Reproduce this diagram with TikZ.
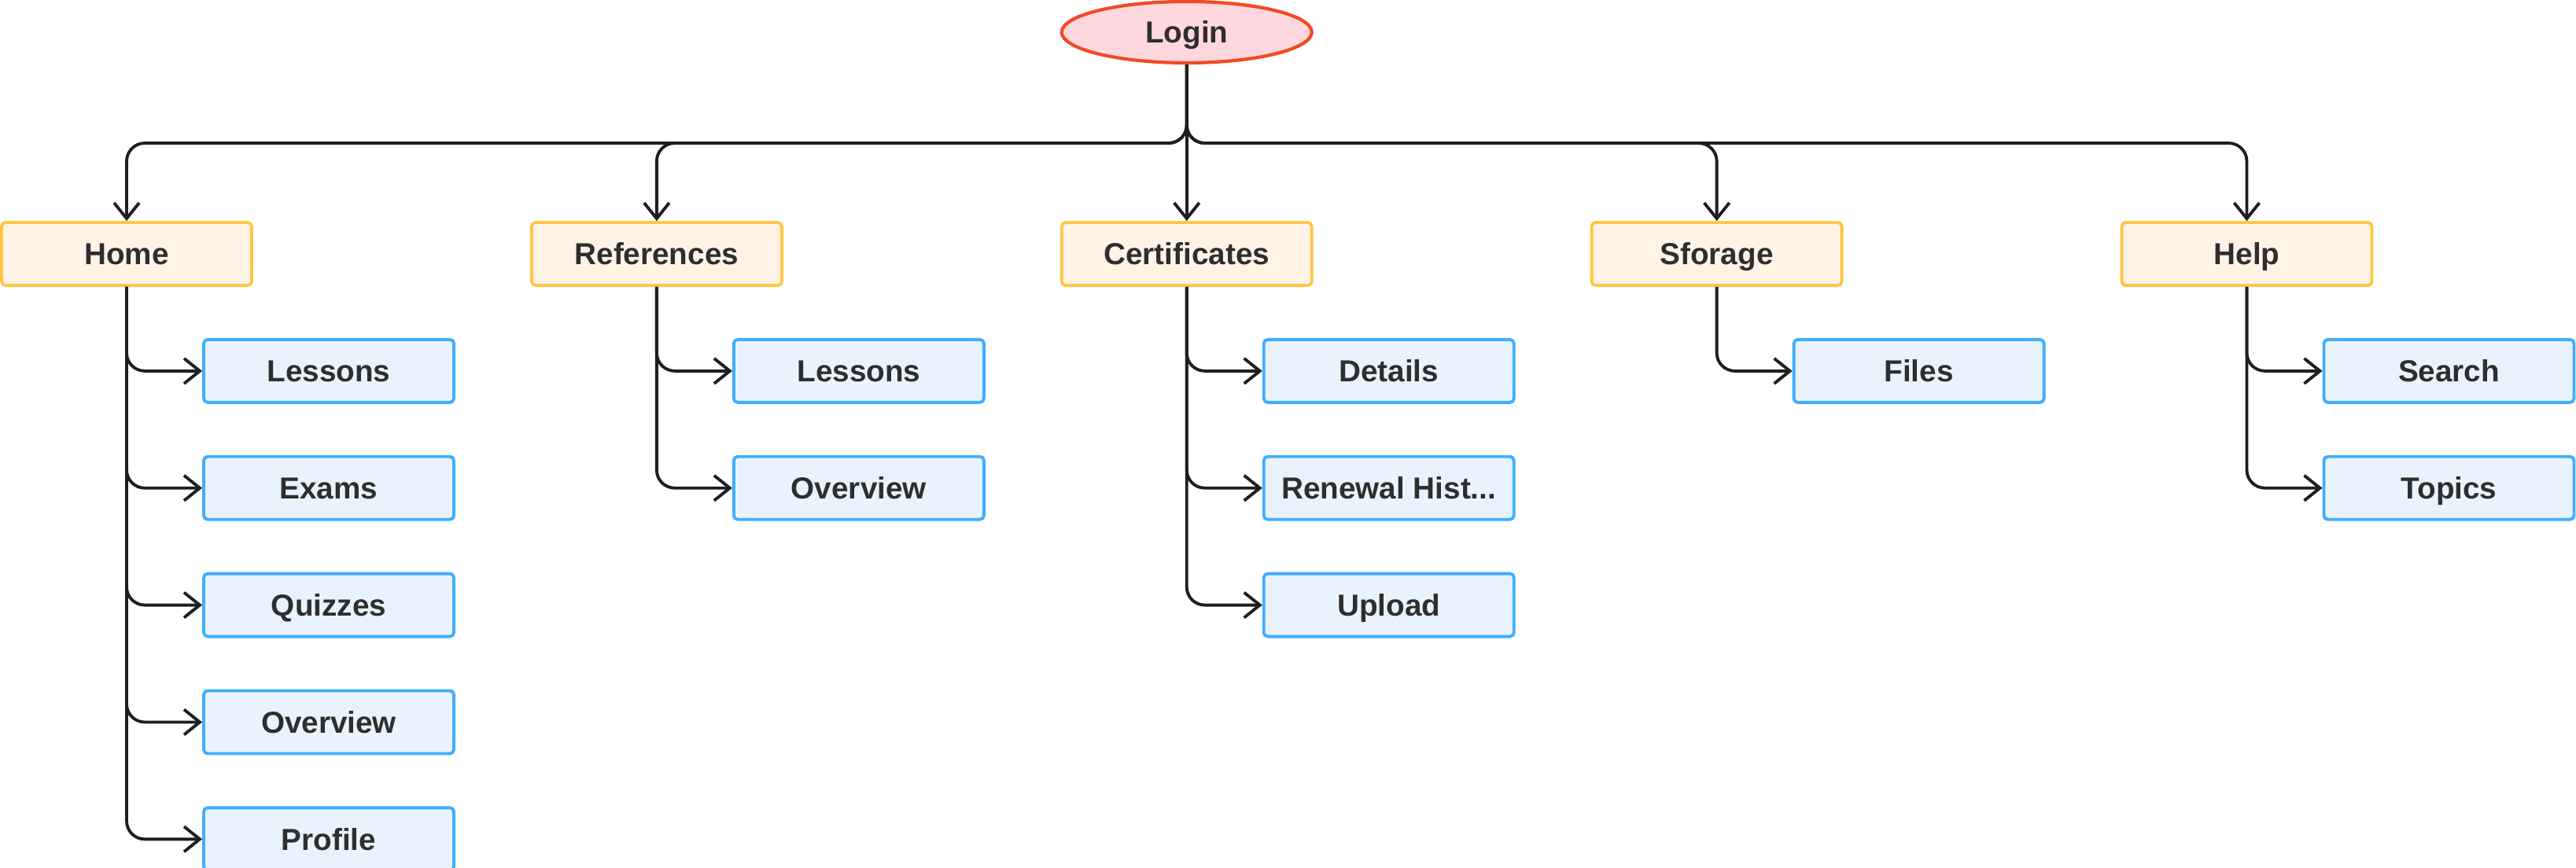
\documentclass[tikz,border=0pt]{standalone}
\usepackage{fontspec}
\setmainfont{Liberation Sans}
\usepackage{tikz}
\usetikzlibrary{shapes.geometric}
\usetikzlibrary{arrows.meta}
\usetikzlibrary{positioning}

\definecolor{loginfill}{HTML}{FFD8DF}
\definecolor{loginline}{HTML}{F24A24}
\definecolor{mainfill}{HTML}{FFF3E5}
\definecolor{mainline}{HTML}{FFC645}
\definecolor{subfill}{HTML}{E8F3FD}
\definecolor{subline}{HTML}{40AEFF}
\definecolor{ink}{HTML}{1E1E1E}
\definecolor{labelink}{HTML}{2E2E2E}

\begin{document}
\begin{tikzpicture}[
                node distance=3.52cm,
                every node/.style={
                        font=\bfseries\fontsize{11}{13}\selectfont,
                        text=labelink,
                        text height=7.9pt,
                        text depth=0pt,
                        align=center
                    },
                loginbox/.style={
                        draw=loginline,
                        fill=loginfill,
                        ellipse,
                        line width=1.2pt,
                        minimum width=3.18cm,
                        minimum height=0.78cm,
                        inner sep=0pt
                    },
                mainbox/.style={
                        draw=mainline,
                        fill=mainfill,
                        rounded corners=0.05cm,
                        line width=1.1pt,
                        minimum width=3.18cm,
                        minimum height=0.8cm,
                        inner sep=0pt
                    },
                subbox/.style={
                        draw=subline,
                        fill=subfill,
                        rounded corners=0.05cm,
                        line width=1.1pt,
                        minimum width=3.18cm,
                        minimum height=0.8cm,
                        inner sep=0pt
                    },
                link/.style={
                        draw=ink,
                        line width=1.1pt,
                        rounded corners=0.23cm,
                        -{Straight Barb[length=0.2cm,width=0.32cm]}
                    }
            ]

            \useasboundingbox (0,0) rectangle (32.75,-11.04);

            % Top row
            \node[mainbox] (home) at (1.61,-3.23) {Home};
            \node[mainbox, right=of home] (references) {References};
            \node[mainbox, right=of references] (certificates) {Certificates};
            \node[mainbox, right=of certificates] (sforage) {Sforage};
            \node[mainbox, right=of sforage] (help) {Help};

            % Login on top
            \node[loginbox, above=1.99cm of certificates] (login) {Login};
            \coordinate[below=1cm of login] (bus);

            % Pages under Home
            \node[subbox, below=0.65cm of home, xshift=2.57cm] (homeLessons) {Lessons};
            \node[subbox, below=0.65cm of homeLessons] (homeExams) {Exams};
            \node[subbox, below=0.65cm of homeExams] (homeQuizzes) {Quizzes};
            \node[subbox, below=0.65cm of homeQuizzes] (homeOverview) {Overview};
            \node[subbox, below=0.65cm of homeOverview] (homeProfile) {Profile};

            % Pages under References
            \node[subbox, below=0.65cm of references, xshift=2.57cm] (refLessons) {Lessons};
            \node[subbox, below=0.65cm of refLessons] (refOverview) {Overview};

            % Pages under Certificates
            \node[subbox, below=0.65cm of certificates, xshift=2.57cm] (certDetails) {Details};
            \node[subbox, below=0.65cm of certDetails] (certRenewal) {Renewal Hist...};
            \node[subbox, below=0.65cm of certRenewal] (certUpload) {Upload};

            % Pages under Sforage
            \node[subbox, below=0.65cm of sforage, xshift=2.57cm] (sforageFiles) {Files};

            % Pages under Help
            \node[subbox, below=0.65cm of help, xshift=2.57cm] (helpSearch) {Search};
            \node[subbox, below=0.65cm of helpSearch] (helpTopics) {Topics};

            % Login to the top row
            \draw[link] (login.south) -- (bus) -| (home.north);
            \draw[link] (login.south) -- (bus) -| (references.north);
            \draw[link] (login.south) -- (certificates.north);
            \draw[link] (login.south) -- (bus) -| (sforage.north);
            \draw[link] (login.south) -- (bus) -| (help.north);

            % Top row to the pages
            \draw[link] (home.south) |- (homeLessons.west);
            \draw[link] (home.south) |- (homeExams.west);
            \draw[link] (home.south) |- (homeQuizzes.west);
            \draw[link] (home.south) |- (homeOverview.west);
            \draw[link] (home.south) |- (homeProfile.west);

            \draw[link] (references.south) |- (refLessons.west);
            \draw[link] (references.south) |- (refOverview.west);

            \draw[link] (certificates.south) |- (certDetails.west);
            \draw[link] (certificates.south) |- (certRenewal.west);
            \draw[link] (certificates.south) |- (certUpload.west);

            \draw[link] (sforage.south) |- (sforageFiles.west);

            \draw[link] (help.south) |- (helpSearch.west);
            \draw[link] (help.south) |- (helpTopics.west);

        \end{tikzpicture}
\end{document}
